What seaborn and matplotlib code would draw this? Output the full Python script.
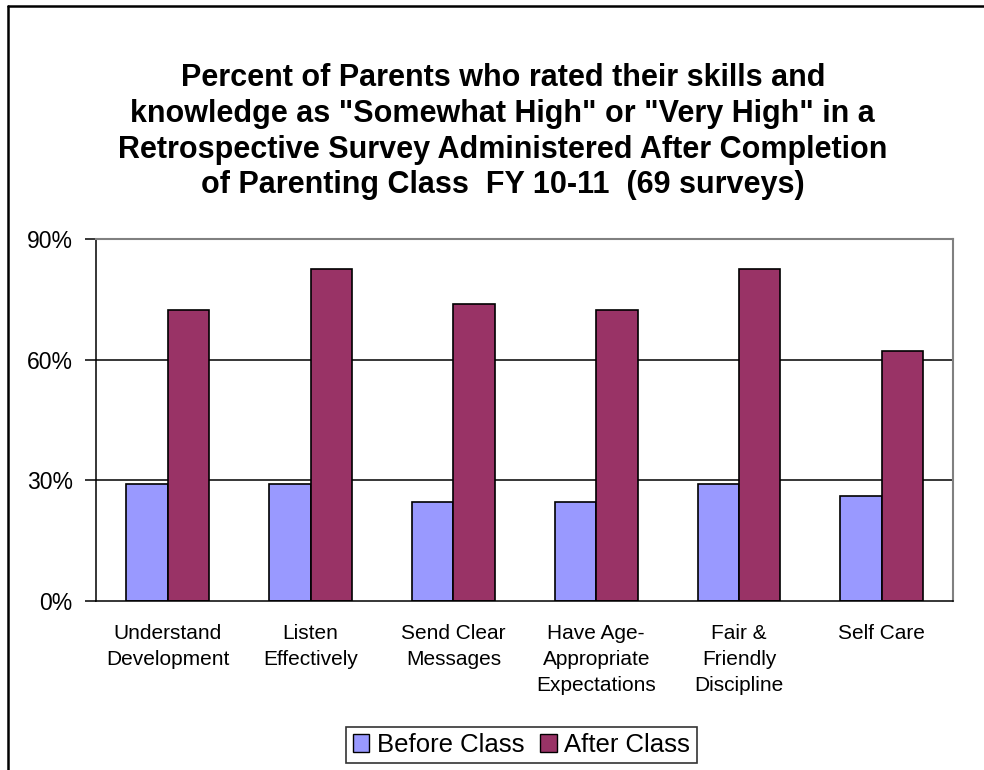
import numpy as np
import pandas as pd
import matplotlib
matplotlib.use("Agg")
import matplotlib.pyplot as plt
import seaborn as sns
from matplotlib.lines import Line2D
from matplotlib.patches import Patch
from matplotlib.ticker import FuncFormatter

# Survey results (percent of 69 parents)
skills = ["Understand\nDevelopment", "Listen\nEffectively", "Send Clear\nMessages",
          "Have Age-\nAppropriate\nExpectations", "Fair &\nFriendly\nDiscipline", "Self Care"]
before_class = [29.0, 29.0, 24.6, 24.6, 29.0, 26.1]
after_class = [72.5, 82.6, 73.9, 72.5, 82.6, 62.3]
series_names = ["Before Class", "After Class"]
colors = ["#9999FF", "#993366"]

title = ('Percent of Parents who rated their skills and\n'
         'knowledge as "Somewhat High" or "Very High" in a\n'
         'Retrospective Survey Administered After Completion\n'
         'of Parenting Class  FY 10-11  (69 surveys)')

df = pd.DataFrame({
    "skill": skills * 2,
    "pct": before_class + after_class,
    "period": [series_names[0]] * len(skills) + [series_names[1]] * len(skills),
})

sns.set_style("white")
plt.rcParams["font.family"] = ["Liberation Sans", "DejaVu Sans"]
plt.rcParams["text.color"] = "black"
plt.rcParams["xtick.color"] = "black"
plt.rcParams["ytick.color"] = "black"
plt.rcParams["xtick.labelcolor"] = "black"
plt.rcParams["ytick.labelcolor"] = "black"

fig = plt.figure(figsize=(9.84, 7.7), dpi=100)
ax = fig.add_axes([0.0979, 0.2199, 0.8709, 0.4693])

sns.barplot(data=df, x="skill", y="pct", hue="period", hue_order=series_names,
            palette=colors, edgecolor="black", linewidth=1.2, width=0.58,
            saturation=1, ax=ax, legend=False)

ax.set_xlim(-0.5, len(skills) - 0.5)
ax.set_ylim(0, 90)
ax.set_yticks([0, 30, 60, 90])
ax.yaxis.set_major_formatter(FuncFormatter(lambda v, p: f"{v:.0f}%"))
for y in [30, 60]:
    ax.axhline(y, color="black", linewidth=1.1, zorder=0)

ax.set_xlabel("")
ax.set_ylabel("")
ax.set_xticks(np.arange(-0.5, len(skills)), minor=True)
ax.tick_params(axis="x", which="major", length=0, pad=17, labelsize=15)
ax.tick_params(axis="x", which="minor", length=8, width=1.1, color="black", direction="out")
ax.tick_params(axis="y", length=8, width=1.1, color="black", direction="out",
               pad=9, labelsize=16.5, left=True)
for lbl in ax.get_xticklabels():
    lbl.set_linespacing(1.45)

for side in ["left", "bottom"]:
    ax.spines[side].set_color("black")
    ax.spines[side].set_linewidth(1.1)
for side in ["top", "right"]:
    ax.spines[side].set_visible(True)
    ax.spines[side].set_color("#808080")
    ax.spines[side].set_linewidth(1.5)

fig.text(0.511, 0.829, title, ha="center", va="center", fontsize=22,
         fontweight="bold", linespacing=1.25)

handles = [Patch(facecolor=c, edgecolor="black", linewidth=1) for c in colors]
leg = fig.legend(handles, series_names, loc="center", bbox_to_anchor=(0.530, 0.0325),
                 ncol=2, fontsize=18.5, frameon=True, fancybox=False,
                 handlelength=0.65, handleheight=0.65, handletextpad=0.3,
                 columnspacing=0.6, borderpad=0.25)
leg.get_frame().set_edgecolor("black")
leg.get_frame().set_linewidth(1.2)

# outer chart border (left and top only visible)
fig.add_artist(Line2D([8 / 984, 8 / 984], [0, 1 - 6 / 770], transform=fig.transFigure,
                      color="black", linewidth=1.8))
fig.add_artist(Line2D([8 / 984, 1], [1 - 6 / 770, 1 - 6 / 770], transform=fig.transFigure,
                      color="black", linewidth=1.8))

fig.savefig("out.png", dpi=100, facecolor="white")
